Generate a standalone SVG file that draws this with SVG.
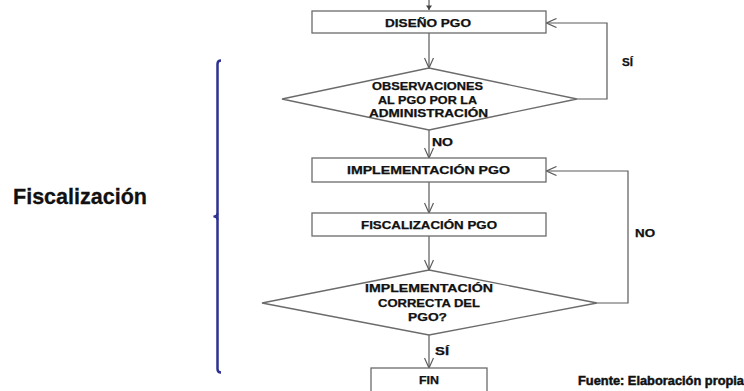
<svg xmlns="http://www.w3.org/2000/svg" width="744" height="391" viewBox="0 0 744 391">
  <style>
    .box { fill: #ffffff; stroke: #6b6b6b; stroke-width: 1.3; }
    .conn { fill: none; stroke: #5a5a5a; stroke-width: 1.2; }
    .lbl { font-family: "Liberation Sans", Arial, sans-serif; font-weight: bold; font-size: 10px; fill: #111; stroke: #111; stroke-width: 0.25; }
    .side { font-family: "Liberation Sans", Arial, sans-serif; font-weight: bold; font-size: 22px; fill: #111; stroke: #111; stroke-width: 0.3; }
    .src { font-family: "Liberation Sans", Arial, sans-serif; font-weight: bold; font-size: 12px; fill: #111; stroke: #111; stroke-width: 0.45; }
  </style>
  <defs>
    <marker id="open" viewBox="0 0 12 10" refX="11" refY="5" markerWidth="12" markerHeight="10" markerUnits="userSpaceOnUse" orient="auto">
      <path d="M1,0.5 L11,5 L1,9.5" fill="none" stroke="#5a5a5a" stroke-width="1.2"/>
    </marker>
  </defs>

  <rect width="744" height="391" fill="#ffffff"/>

  <!-- side bracket and title -->
  <g id="bracket">
    <path d="M221,60.5 Q217.5,60.5 217.5,64 L217.5,369 Q217.5,372.5 221,372.5" fill="none" stroke="#2e3192" stroke-width="2.5"/>
    <path d="M217.5,213 Q217.5,216 213.5,216.5 Q217.5,217 217.5,220" fill="none" stroke="#2e3192" stroke-width="2"/>
  </g>
  <text id="side-title" class="side" x="13" y="204" textLength="134" lengthAdjust="spacingAndGlyphs">Fiscalización</text>

  <!-- connectors -->
  <g id="connectors">
    <path d="M429,0 L429,10" class="conn"/>
    <path d="M426,5.5 L432,5.5 L429,10 Z" fill="#444"/>
    <path d="M429,33 L429,68" class="conn" marker-end="url(#open)"/>
    <path d="M577,99 L607,99 L607,23 L546.5,23" class="conn" marker-end="url(#open)"/>
    <path d="M429,130 L429,158" class="conn" marker-end="url(#open)"/>
    <path d="M429,182 L429,213" class="conn" marker-end="url(#open)"/>
    <path d="M429,236 L429,270" class="conn" marker-end="url(#open)"/>
    <path d="M597,303 L628,303 L628,171 L546.5,171" class="conn" marker-end="url(#open)"/>
    <path d="M429,335 L429,368" class="conn" marker-end="url(#open)"/>
    <text class="lbl" x="622" y="66" textLength="11" lengthAdjust="spacingAndGlyphs">SÍ</text>
    <text class="lbl" x="432" y="146" textLength="21" lengthAdjust="spacingAndGlyphs">NO</text>
    <text class="lbl" x="635" y="237" textLength="20" lengthAdjust="spacingAndGlyphs">NO</text>
    <text class="lbl" x="435" y="355" textLength="14" lengthAdjust="spacingAndGlyphs">SÍ</text>
  </g>

  <g id="diseno">
    <rect class="box" x="312" y="11" width="234" height="22"/>
    <text class="lbl" x="385" y="26.5" textLength="86" lengthAdjust="spacingAndGlyphs">DISEÑO PGO</text>
  </g>

  <g id="observaciones">
    <polygon class="box" points="429,68 577,99 429,130 282,99"/>
    <text class="lbl" x="372" y="90" textLength="111" lengthAdjust="spacingAndGlyphs">OBSERVACIONES</text>
    <text class="lbl" x="378" y="103.5" textLength="99" lengthAdjust="spacingAndGlyphs">AL PGO POR LA</text>
    <text class="lbl" x="369" y="117" textLength="119" lengthAdjust="spacingAndGlyphs">ADMINISTRACIÓN</text>
  </g>

  <g id="implementacion">
    <rect class="box" x="312" y="158" width="234" height="24"/>
    <text class="lbl" x="347" y="174" textLength="163" lengthAdjust="spacingAndGlyphs">IMPLEMENTACIÓN PGO</text>
  </g>

  <g id="fiscalizacion">
    <rect class="box" x="312" y="213" width="234" height="23"/>
    <text class="lbl" x="361" y="228.5" textLength="136" lengthAdjust="spacingAndGlyphs">FISCALIZACIÓN PGO</text>
  </g>

  <g id="verificacion">
    <polygon class="box" points="429,270 597,303 429,335 262,303"/>
    <text class="lbl" x="365" y="292" textLength="128" lengthAdjust="spacingAndGlyphs">IMPLEMENTACIÓN</text>
    <text class="lbl" x="378" y="307" textLength="102" lengthAdjust="spacingAndGlyphs">CORRECTA DEL</text>
    <text class="lbl" x="408" y="321" textLength="39" lengthAdjust="spacingAndGlyphs">PGO?</text>
  </g>

  <g id="fin">
    <rect class="box" x="371" y="368" width="116" height="30"/>
    <text class="lbl" x="419" y="384" textLength="20" lengthAdjust="spacingAndGlyphs">FIN</text>
  </g>

  <text id="fuente" class="src" x="578" y="385" textLength="166" lengthAdjust="spacingAndGlyphs">Fuente: Elaboración propia</text>
</svg>
